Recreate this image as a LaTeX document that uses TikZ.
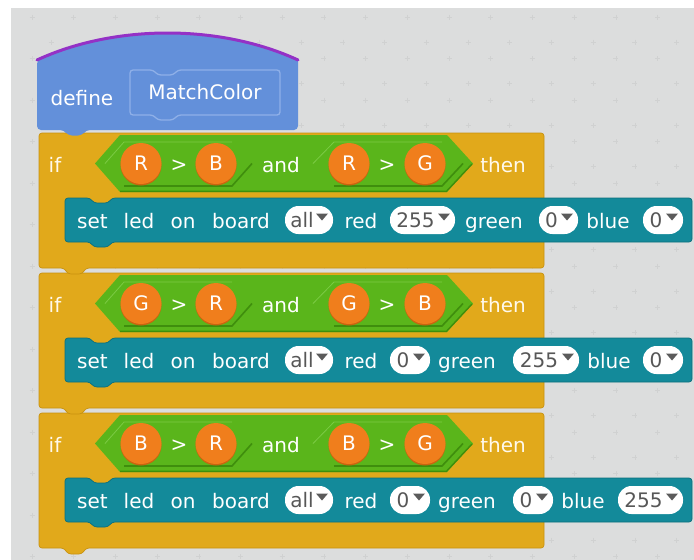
\documentclass[tikz,border=0pt]{standalone}
\usepackage{fontspec}
\setmainfont{DejaVu Sans}
\definecolor{bggray}{HTML}{DCDDDD}
\definecolor{gridc}{HTML}{D0D1D1}
\definecolor{defblue}{HTML}{6390DA}
\definecolor{defline}{HTML}{8FB0E8}
\definecolor{purp}{HTML}{9431C6}
\definecolor{ifyel}{HTML}{E1A91B}
\definecolor{ifedge}{HTML}{C8920F}
\definecolor{ifwhite}{HTML}{FFF9EC}
\definecolor{boolg}{HTML}{5AB51B}
\definecolor{boold}{HTML}{3F8E0D}
\definecolor{booll}{HTML}{7CCB44}
\definecolor{orng}{HTML}{F07E1C}
\definecolor{orngd}{HTML}{C9650F}
\definecolor{tealc}{HTML}{138A9A}
\definecolor{tealdk}{HTML}{0C6F7C}
\definecolor{ddgray}{HTML}{5B5B5B}
\definecolor{pilltext}{HTML}{575757}

\newcommand\ifblk[6]{%
  % C shaped if block
  \fill[ifyel, draw=ifedge, line width=0.7pt, rounded corners=3pt] (39,#1) -- (544,#1) -- (544,#1+135) -- (86,#1+135) -- (82,#1+141) -- (68,#1+141) -- (64,#1+135) -- (39,#1+135) -- cycle;
  \node[lbl, text=ifwhite] (if#2) at (55,#1+39) {if};
  \node[lbl, text=ifwhite] (then#2) at (503,#1+39) {then};
  % outer boolean "and"
  \fill[boolg] (95,#1+30.5) -- (120,#1+2) -- (447,#1+2) -- (473,#1+30.5) -- (447,#1+59) -- (120,#1+59) -- cycle;
  \draw[boold, line width=1.4pt] (472,#1+31) -- (446.5,#1+58.3) -- (120,#1+58.3);
  % inner booleans
  \draw[booll, line width=0.8pt] (105,#1+30.5) -- (124,#1+9) -- (232,#1+9);
  \draw[boold, line width=1.6pt] (252,#1+30.5) -- (232,#1+53) -- (124,#1+53);
  \draw[booll, line width=0.8pt] (313,#1+30.5) -- (334,#1+9) -- (442,#1+9);
  \draw[boold, line width=1.6pt] (463,#1+30.5) -- (442,#1+53) -- (334,#1+53);
  \node[lbl] (and#2) at (281,#1+39) {and};
  % reporters
  \fill[orngd] (141,#1+32) circle[radius=20.5];
  \fill[orngd] (216,#1+32) circle[radius=20.5];
  \fill[orngd] (349,#1+32) circle[radius=20.5];
  \fill[orngd] (425,#1+32) circle[radius=20.5];
  \node[orb] (o#2a) at (141,#1+30.5) {#3};
  \node[orb] (o#2b) at (216,#1+30.5) {#4};
  \node[orb] (o#2c) at (349,#1+30.5) {#5};
  \node[orb] (o#2d) at (425,#1+30.5) {#6};
  \node[lbl] (gt#2a) at (179,#1+38) {>};
  \node[lbl] (gt#2b) at (387,#1+38) {>};
  % set led block
  \fill[tealc, draw=tealdk, line width=0.7pt, rounded corners=3pt] (65,#1+65) -- (90,#1+65) -- (94,#1+70) -- (108,#1+70) -- (112,#1+65) -- (692,#1+65) -- (692,#1+109) -- (112,#1+109) -- (108,#1+114) -- (94,#1+114) -- (90,#1+109) -- (65,#1+109) -- cycle;
  \node[lbl] (set#2) at (92.5,#1+95) {set};
  \node[lbl] (led#2) at (139,#1+95) {led};
  \node[lbl] (on#2) at (183,#1+95) {on};
  \node[lbl] (board#2) at (241,#1+95) {board};
  \node[lbl] (red#2) at (361,#1+95) {red};
}

\newcommand\ddpill[5]{%
  \fill[white, rounded corners=13.5pt] (#2,#4-14) rectangle (#3,#4+14);
  \node[ddt] (#1) at ({(#2+#3-16)/2+1},#4+7.5) {#5};
  \fill[ddgray] (#3-17,#4-6.5) -- (#3-5,#4-6.5) -- (#3-11,#4+0.5) -- cycle;
}

\begin{document}
\begin{tikzpicture}[x=1pt, y=-1pt,
  every node/.style={inner sep=0pt, outer sep=0pt},
  lbl/.style={text=white, font=\fontsize{20pt}{24pt}\selectfont, anchor=base},
  ddt/.style={text=pilltext, font=\fontsize{20pt}{24pt}\selectfont, anchor=base},
  orb/.style={circle, minimum size=41pt, fill=orng, text=white, font=\fontsize{20pt}{24pt}\selectfont}]
\useasboundingbox (0,0) rectangle (694,560);
\fill[white] (0,0) rectangle (694,560);
\fill[bggray] (11,8) rectangle (694,560);
% background grid marks
\foreach \i in {0,...,16}{
  \foreach \j in {0,...,13}{
    \draw[gridc, line width=0.6pt] ({32+41.7*\i-2.5},{17+41.5*\j}) -- ++(5,0) ({32+41.7*\i},{17+41.5*\j-2.5}) -- ++(0,5);
    \draw[gridc, line width=0.6pt] ({51+41.7*\i-2.5},{42+41.5*\j}) -- ++(5,0) ({51+41.7*\i},{42+41.5*\j-2.5}) -- ++(0,5);
  }
}
% if blocks (drawn bottom first so tabs overlap)
\ifblk{413}{3}{B}{R}{B}{G}
\ifblk{273}{2}{G}{R}{G}{B}
\ifblk{133}{1}{R}{B}{R}{G}
% define hat block
\fill[defblue, rounded corners=3pt] (37,60) [sharp corners] .. controls (115,24) and (220,24) .. (298,60) [rounded corners=4pt] -- (298,130) -- (86,130) -- (82,135.5) -- (68,135.5) -- (64,130) -- (37,130) -- cycle;
\draw[purp, line width=3pt, line cap=round] (37,60) .. controls (115,24) and (220,24) .. (298,60);
\draw[defline, line width=1.3pt, rounded corners=3pt] (130,70) -- (153,70) -- (158,75) -- (173,75) -- (178,70) -- (280,70) -- (280,115) -- (178,115) -- (173,120) -- (158,120) -- (153,115) -- (130,115) -- cycle;
\node[lbl] (define) at (82,105) {define};
\node[lbl] (name) at (205,99) {MatchColor};
% dropdowns row 1
\ddpill{all1}{285}{333}{220}{all}
\ddpill{r1}{390}{455}{220}{255}
\node[lbl] (green1) at (494,228) {green};
\ddpill{g1}{539}{578}{220}{0}
\node[lbl] (blue1) at (608,228) {blue};
\ddpill{b1}{643}{683}{220}{0}
% row 2
\ddpill{all2}{285}{333}{360}{all}
\ddpill{r2}{390}{430}{360}{0}
\node[lbl] (green2) at (467,368) {green};
\ddpill{g2}{513}{579}{360}{255}
\node[lbl] (blue2) at (609,368) {blue};
\ddpill{b2}{643}{683}{360}{0}
% row 3
\ddpill{all3}{285}{333}{500}{all}
\ddpill{r3}{390}{430}{500}{0}
\node[lbl] (green3) at (467,508) {green};
\ddpill{g3}{513}{553}{500}{0}
\node[lbl] (blue3) at (583,508) {blue};
\ddpill{b3}{618}{683}{500}{255}
\end{tikzpicture}
\end{document}
